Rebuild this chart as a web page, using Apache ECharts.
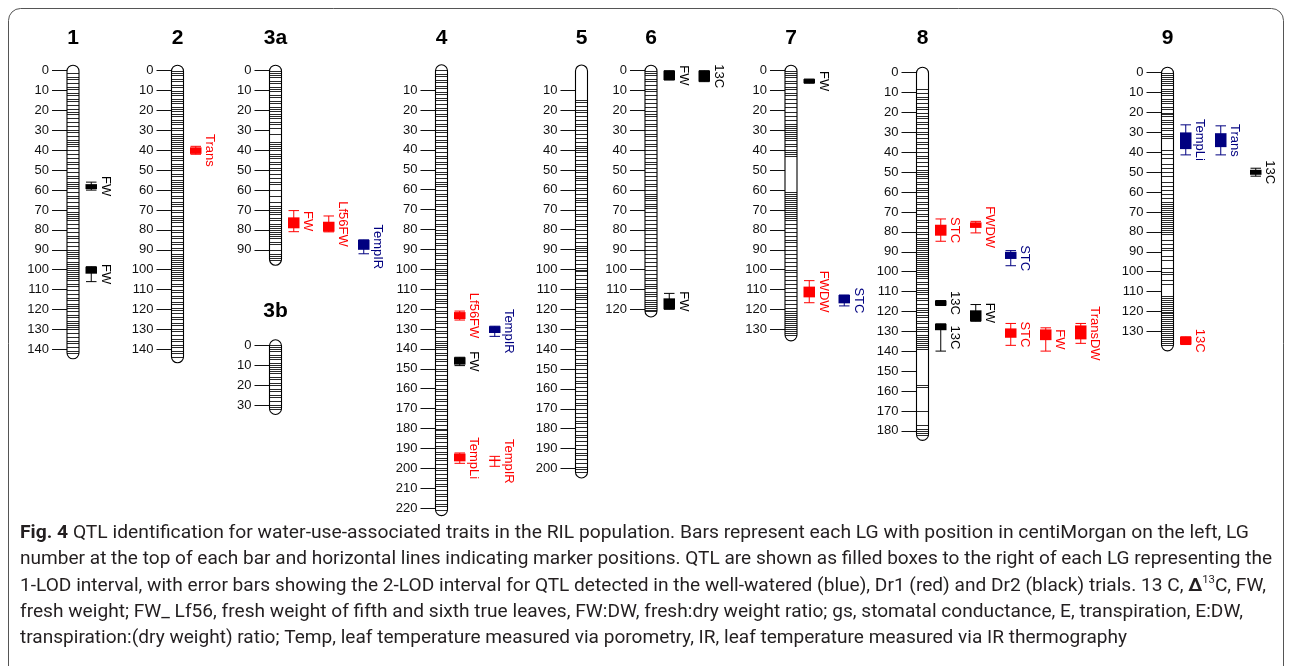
<!DOCTYPE html>
<html><head><meta charset="utf-8">
<script src="https://cdn.jsdelivr.net/npm/echarts@6/dist/echarts.min.js"></script>
<style>html,body{margin:0;padding:0;background:#fff}#c{width:1292px;height:666px}</style>
</head><body><div id="c"></div><script>
// ---------- DATA ----------
const chromNames = ['1','2','3a','3b','4','5','6','7','8','9'];
const chromLength = [142,144,95,32,221,202,121,133,182,137];

const ticks1 = [0,10,20,30,40,50,60,70,80,90,100,110,120,130,140];
const ticks2 = [0,10,20,30,40,50,60,70,80,90,100,110,120,130,140];
const ticks3a = [0,10,20,30,40,50,60,70,80,90];
const ticks3b = [0,10,20,30];
const ticks4 = [10,20,30,40,50,60,70,80,90,100,110,120,130,140,150,160,170,180,190,200,210,220];
const ticks5 = [10,20,30,40,50,60,70,80,90,100,110,120,130,140,150,160,170,180,190,200];
const ticks6 = [0,10,20,30,40,50,60,70,80,90,100,110,120];
const ticks7 = [0,10,20,30,40,50,60,70,80,90,100,110,120,130];
const ticks8 = [0,10,20,30,40,50,60,70,80,90,100,110,120,130,140,150,160,170,180];
const ticks9 = [0,10,20,30,40,50,60,70,80,90,100,110,120,130];

const markers1 = [1,3,4,6,8,9,11,12,14,15,17,19,21,22,24,26,28,30,31,33,35,36,37,38,40,42,44,46,47,49,51,53,54,56,57,58,59,61,63,64,66,68,69,71,72,73,74,75,77,79,81,83,84,86,88,90,91,92,93,94,96,97,98,99,100,101,102,103,104,105,107,108,110,112,114,115,117,118,119,121,123,124,126,127,128,129,130,132,134,136,137,139,141,142];
const markers2 = [0,1,2,4,5,7,8,10,11,12,14,15,16,18,19,20,22,23,25,26,27,29,30,32,33,34,35,36,37,38,39,40,41,43,44,45,47,48,49,50,52,53,55,56,57,58,59,60,61,63,64,66,67,68,70,71,73,74,75,76,78,80,81,83,84,86,87,89,90,92,93,94,95,96,97,98,99,100,101,102,103,104,105,107,108,110,111,113,114,116,117,119,120,122,124,125,127,128,130,131,133,135,136,138,139,141,142,144];
const markers3a = [0,1,2,3,5,6,8,9,10,12,13,15,16,18,19,20,22,23,24,26,27,29,32,36,37,38,39,40,42,43,44,46,47,49,50,52,54,56,57,60,63,66,68,69,70,71,72,74,75,77,78,79,80,81,82,83,84,86,87,90,92,93,94,95];
const markers3b = [0,1,2,3,5,6,7,9,10,11,12,13,14,16,17,19,20,22,23,25,26,28,30,31,32];
const markers4 = [0,2,3,5,6,8,9,11,12,14,15,17,19,20,22,23,25,27,28,30,31,33,35,36,38,39,41,43,44,46,47,49,51,52,54,56,57,58,60,62,63,65,67,68,70,72,73,75,77,78,80,82,83,85,87,88,90,92,93,95,97,98,100,101,102,103,105,107,108,110,112,113,115,116,117,119,121,122,124,126,127,129,131,132,134,136,137,138,139,140,142,143,145,146,148,150,151,153,155,156,158,160,161,163,165,166,168,170,171,173,175,176,178,180,181,183,184,185,187,189,190,192,193,195,196,198,200,201,203,205,206,208,209,211,213,214,216,218,219,221];
const markers5 = [15,16,18,20,21,23,25,27,28,30,32,34,36,38,39,40,41,43,45,47,48,50,51,53,54,55,57,59,60,62,64,65,66,68,70,72,73,75,77,78,80,82,84,86,88,89,90,91,93,95,97,99,100,101,103,105,107,109,110,112,113,114,115,117,119,121,122,124,126,128,129,131,133,135,136,137,139,141,143,145,147,148,150,152,154,156,157,159,161,163,165,167,168,170,172,174,176,177,179,181,183,184,186,188,190,192,193,195,197,199,200,202];
const markers6 = [0,1,2,4,5,7,9,10,12,14,16,18,20,22,23,25,27,28,30,32,33,35,37,38,40,42,44,46,47,49,51,53,55,57,58,60,62,63,64,65,67,68,69,71,73,75,77,79,80,82,84,86,88,90,92,94,96,98,100,102,104,105,107,108,109,111,112,113,115,116,117,118,119,120,121];
const markers7 = [0,1,2,3,5,6,8,9,11,12,14,16,18,21,23,25,27,28,29,30,31,32,33,34,35,37,38,40,41,42,43,61,62,63,64,65,66,67,68,69,70,71,72,73,74,75,77,79,81,83,85,86,88,90,92,94,96,98,100,101,103,105,107,109,111,113,115,117,119,121,122,123,124,125,126,127,128,129,130,131,132,133];
const markers8 = [8,10,12,13,15,17,18,20,22,23,25,26,28,30,31,33,35,36,38,40,42,43,45,47,49,50,51,52,53,55,56,58,59,60,62,63,65,66,68,69,71,72,74,75,77,78,80,81,83,84,85,86,87,88,89,90,91,92,93,94,95,96,97,98,99,100,101,102,103,105,106,108,109,110,111,113,114,116,118,119,120,122,123,125,126,128,129,130,132,133,134,135,136,137,138,139,157,158,170,177,179,180,181,182];
const markers9 = [0,1,2,3,4,5,6,8,9,10,11,13,14,15,17,18,20,21,22,24,25,26,28,29,31,32,33,39,41,43,46,48,50,52,55,57,59,61,63,65,66,67,68,69,70,71,72,73,74,75,76,77,78,79,80,81,84,86,88,89,92,94,98,100,101,104,106,112,113,114,115,116,117,118,119,120,121,122,123,124,125,126,127,128,129,130,131,132,133,134,135,136,137];

// QTL (one entry per QTL)
const qtlChrom = ['1','1','2','3a','3a','3a','4','4','4','4','4','6','6','6','7','7','7','8','8','8','8','8','8','8','8','8','9','9','9','9'];
const qtlTrait = ['FW','FW','Trans','FW','Lf56FW','TempIR','Lf56FW','TempIR','FW','TempLi','TempIR','FW','13C','FW','FW','FWDW','STC','STC','FWDW','STC','13C','13C','FW','STC','FW','TransDW','TempLi','Trans','13C','13C'];
const qtlTrial = ['Dr2','Dr2','Dr1','Dr1','Dr1','WW','Dr1','WW','Dr2','Dr1','Dr1','Dr2','Dr2','Dr2','Dr2','Dr1','WW','Dr1','Dr1','WW','Dr2','Dr2','Dr2','Dr1','Dr1','Dr1','WW','WW','Dr2','Dr1'];
const qtlLane = [1,1,1,1,2,3,1,2,1,1,2,1,2,1,1,1,2,1,2,3,1,1,2,3,4,5,1,2,3,1];
const qtlLod1Lo = [57,98.5,38.5,73.7,75.9,85,121.5,128.6,144.2,192.6,195.6,0,0,114.4,4.2,108.5,112.7,76.4,75.2,90,114.5,126.2,119.4,128.5,129,127,30,30.4,48.8,132.7];
const qtlLod1Hi = [59.5,102,41.8,79.2,80.9,90,125,132,147.9,196.5,196,4.7,5.5,119.9,6.3,113.9,116.9,81.9,78,93.6,117,129.4,124.9,133.2,134.4,134,38.4,37.4,51.3,136.6];
const qtlLod2Lo = [56,98.5,38,70.3,73,85,121,128.6,144.2,192.3,194,0,0,111.9,4.2,105.5,112.7,73.5,74.7,89.4,114.5,126.2,116.5,126,128.2,126,26.2,26.7,48,132.7];
const qtlLod2Hi = [60,106,42,80.9,81,92,125.5,133.7,148.4,197.5,199,4.7,5.5,119.9,6.3,116.6,118.2,84.7,80.5,97,117,139.9,124.9,137,139.9,136,41.3,41.3,52,136.6];

const captionLines = [
  'QTL identification for water-use-associated traits in the RIL population. Bars represent each LG with position in centiMorgan on the left, LG',
  'number at the top of each bar and horizontal lines indicating marker positions. QTL are shown as filled boxes to the right of each LG representing the',
  '1-LOD interval, with error bars showing the 2-LOD interval for QTL detected in the well-watered (blue), Dr1 (red) and Dr2 (black) trials. 13 C, ',
  'fresh weight; FW_ Lf56, fresh weight of fifth and sixth true leaves, FW:DW, fresh:dry weight ratio; gs, stomatal conductance, E, transpiration, E:DW,',
  'transpiration:(dry weight) ratio; Temp, leaf temperature measured via porometry, IR, leaf temperature measured via IR thermography'
];

// ---------- LAYOUT / STYLE ----------
const tickSets = [ticks1,ticks2,ticks3a,ticks3b,ticks4,ticks5,ticks6,ticks7,ticks8,ticks9];
const markerSets = [markers1,markers2,markers3a,markers3b,markers4,markers5,markers6,markers7,markers8,markers9];
const SCALE = 1.99;
const BAR_W = 12;
const BOX_W = 11.5;
const barLeft = [67,171.5,269.5,269.5,435.5,575.5,645,785,916.5,1161.5];
const zeroY = [70.7,70.7,70.7,345.3,70.3,70.5,70.7,70.7,72.7,72.7];
const titleY = [38,38,38,311,38,38,38,38,38,38];
const trialColor = {WW:'#000080', Dr1:'#ff0000', Dr2:'#000000'};
const FONT = 'Liberation Sans';

const grids = [], xAxes = [], yAxes = [], series = [], graphics = [];
chromNames.forEach((name, i) => {
  const len = chromLength[i];
  grids.push({left: barLeft[i], top: zeroY[i], width: BAR_W, height: len * SCALE});
  xAxes.push({gridIndex: i, type: 'value', min: 0, max: 1, show: false});
  yAxes.push({
    gridIndex: i, type: 'value', inverse: true, min: 0, max: len,
    axisLine: {show: false}, splitLine: {show: false},
    axisTick: {show: true, customValues: tickSets[i], length: 15, lineStyle: {color: '#111', width: 1}},
    axisLabel: {customValues: tickSets[i], margin: 18, fontSize: 13, color: '#111', fontFamily: FONT}
  });
  // marker lines
  series.push({
    type: 'custom', xAxisIndex: i, yAxisIndex: i, silent: true, z: 2,
    data: markerSets[i].map(v => [0, v]), encode: {x: 0, y: 1},
    renderItem: (params, api) => {
      const p0 = api.coord([0, api.value(1)]);
      const p1 = api.coord([1, api.value(1)]);
      const y = Math.round(p0[1]) + 0.5;
      return {type: 'line', shape: {x1: p0[0], y1: y, x2: p1[0], y2: y},
              style: {stroke: '#2a2a2a', lineWidth: 1}};
    }
  });
  // chromosome outline
  series.push({
    type: 'custom', xAxisIndex: i, yAxisIndex: i, silent: true, z: 3,
    data: [[0, len]], encode: {x: 0, y: 1},
    renderItem: (params, api) => {
      const a = api.coord([0, 0]);
      const b = api.coord([1, api.value(1)]);
      return {type: 'rect', shape: {x: a[0], y: a[1] - 5.5, width: b[0] - a[0], height: b[1] - a[1] + 11, r: 6},
              style: {fill: 'none', stroke: '#000', lineWidth: 1.1}};
    }
  });
  // QTL
  const idxs = [];
  qtlChrom.forEach((c, k) => { if (c === name) idxs.push(k); });
  if (idxs.length) {
    series.push({
      type: 'custom', xAxisIndex: i, yAxisIndex: i, silent: true, z: 5,
      data: idxs.map(k => [qtlLane[k], qtlLod1Lo[k], qtlLod1Hi[k], qtlLod2Lo[k], qtlLod2Hi[k], k]),
      encode: {x: 0, y: [1, 2, 3, 4]},
      renderItem: (params, api) => {
        const k = api.value(5);
        const lane = api.value(0);
        const barRight = api.coord([1, 0])[0];
        const xL = barRight + 6.5 + 35 * (lane - 1);
        const xc = xL + BOX_W / 2;
        const y1a = api.coord([0, api.value(1)])[1];
        const y1b = api.coord([0, api.value(2)])[1];
        const y2a = api.coord([0, api.value(3)])[1];
        const y2b = api.coord([0, api.value(4)])[1];
        const color = trialColor[qtlTrial[k]];
        const top = Math.min(y1a, y2a), bot = Math.max(y1b, y2b);
        return {type: 'group', children: [
          {type: 'line', shape: {x1: xc, y1: y2a, x2: xc, y2: y2b}, style: {stroke: color, lineWidth: 1}},
          {type: 'line', shape: {x1: xL + 0.5, y1: y2a, x2: xL + BOX_W - 0.5, y2: y2a}, style: {stroke: color, lineWidth: 1}},
          {type: 'line', shape: {x1: xL + 0.5, y1: y2b, x2: xL + BOX_W - 0.5, y2: y2b}, style: {stroke: color, lineWidth: 1}},
          {type: 'rect', shape: {x: xL, y: y1a, width: BOX_W, height: Math.max(y1b - y1a, 1.5)}, style: {fill: color}},
          {type: 'text', x: xL + BOX_W + 8.5, y: (top + bot) / 2, rotation: -Math.PI / 2,
           style: {text: qtlTrait[k], fill: color, fontSize: 13, fontFamily: FONT, align: 'center', verticalAlign: 'middle'}}
        ]};
      }
    });
  }
  graphics.push({type: 'text', x: barLeft[i] + BAR_W / 2, y: titleY[i], silent: true,
    style: {text: name, fill: '#000', fontSize: 21, fontWeight: 'bold', fontFamily: FONT, align: 'center', verticalAlign: 'middle'}});
});

// frame
graphics.push({type: 'rect', shape: {x: 8.5, y: 8.5, width: 1275, height: 720, r: 12}, silent: true,
  style: {fill: 'none', stroke: '#555', lineWidth: 1}, z: -1});

// caption with measured horizontal compression
const CAP_FONT_FAMILY = 'Roboto';
const CAP_SIZE = 18.5;
const mctx = document.createElement('canvas').getContext('2d');
function measure(txt, weight, size) {
  mctx.font = (weight || 'normal') + ' ' + (size || CAP_SIZE) + 'px ' + CAP_FONT_FAMILY;
  return mctx.measureText(txt).width;
}
const capX = 20;
const capY = [533, 559, 586, 612, 638];
const capEnd = [1249, 1272, 1266, 1243, 1127];
const capRich = {
  b: {fontWeight: 'bold', fontSize: CAP_SIZE, fontFamily: CAP_FONT_FAMILY, fill: '#231f20'},
  d: {fontWeight: 'bold', fontSize: CAP_SIZE, fontFamily: CAP_FONT_FAMILY, fill: '#231f20'},
  s: {fontSize: 11, fontFamily: CAP_FONT_FAMILY, fill: '#231f20', verticalAlign: 'top', lineHeight: 22}
};
captionLines.forEach((line, j) => {
  let text, w;
  if (j === 0) {
    text = '{b|Fig. 4} ' + line;
    w = measure('Fig. 4', 'bold') + measure(' ' + line);
  } else if (j === 2) {
    text = line + '{d|\u0394}{s|13}C, FW,';
    w = measure(line) + measure('\u0394', 'bold') + measure('13', 'normal', 11) + measure('C, FW,');
  } else {
    text = line;
    w = measure(line);
  }
  const sx = (capEnd[j] - capX) / w;
  graphics.push({type: 'text', x: capX, y: capY[j], scaleX: sx, silent: true,
    style: {text: text, rich: capRich, fontSize: CAP_SIZE, fontFamily: CAP_FONT_FAMILY, fill: '#231f20',
            align: 'left', verticalAlign: 'middle', lineHeight: 22}});
});

const chart = echarts.init(document.getElementById('c'), null, {renderer: 'canvas'});
chart.setOption({
  animation: false,
  backgroundColor: '#fff',
  grid: grids, xAxis: xAxes, yAxis: yAxes, series: series,
  graphic: {elements: graphics}
});
</script></body></html>
